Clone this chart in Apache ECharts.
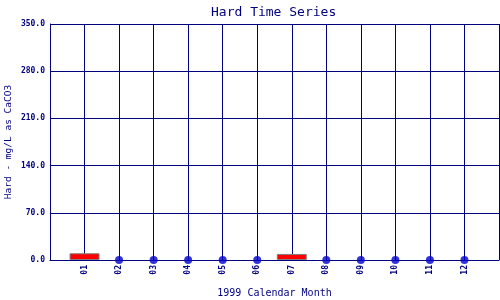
<!DOCTYPE html>
<html>
<head>
<meta charset="utf-8">
<script src="https://cdn.jsdelivr.net/npm/echarts@6/dist/echarts.min.js"></script>
<style>html,body{margin:0;padding:0;background:#fff;}#c{width:500px;height:300px;}</style>
</head>
<body>
<div id="c"></div>
<script>
const titleText = 'Hard Time Series';
const xName = '1999 Calendar Month';
const yName = 'Hard - mg/L as CaCO3';
const months = ['01','02','03','04','05','06','07','08','09','10','11','12'];
const barValues = [10, null, null, null, null, null, 9, null, null, null, null, null];
const dotValues = [null, 0, 0, 0, 0, 0, null, 0, 0, 0, 0, 0];
const yTicks = [0, 70, 140, 210, 280, 350];

const navy = '#000080';
const font = 'DejaVu Sans Mono';
const barData = [], dotData = [];
months.forEach((m, i) => {
  if (barValues[i] !== null) barData.push([i + 1, barValues[i]]);
  if (dotValues[i] !== null) dotData.push([i + 1, dotValues[i]]);
});

const chart = echarts.init(document.getElementById('c'), null, {renderer: 'canvas'});
chart.setOption({
  animation: false,
  title: {
    text: titleText, left: 206, top: 1,
    textStyle: {fontFamily: font, fontSize: 13, fontWeight: 'normal', color: navy}
  },
  grid: {left: 50, right: 1, top: 24, bottom: 40, containLabel: false, outerBoundsMode: 'none'},
  xAxis: {
    type: 'value', min: 0, max: months.length + 1, interval: 1,
    name: xName, nameLocation: 'middle', nameGap: 28, nameMoveOverlap: false,
    nameTextStyle: {fontFamily: font, fontSize: 10, color: navy},
    axisLine: {show: true, lineStyle: {color: navy, width: 1}},
    axisTick: {show: false},
    axisLabel: {
      rotate: 90, margin: 5, fontFamily: font, fontSize: 8, fontWeight: 'bold', color: navy,
      formatter: v => (v >= 1 && v <= months.length) ? months[v - 1] : ''
    },
    splitLine: {show: true, lineStyle: {color: navy, width: 1}}
  },
  yAxis: {
    type: 'value', min: yTicks[0], max: yTicks[yTicks.length - 1], interval: yTicks[1] - yTicks[0],
    name: yName, nameLocation: 'middle', nameGap: 36, nameMoveOverlap: false,
    nameTextStyle: {fontFamily: font, fontSize: 9.5, color: navy},
    axisLine: {show: true, lineStyle: {color: navy, width: 1}},
    axisTick: {show: false},
    axisLabel: {margin: 5, fontFamily: font, fontSize: 8, fontWeight: 'bold', color: navy,
      formatter: v => v.toFixed(1)},
    splitLine: {show: true, lineStyle: {color: navy, width: 1}}
  },
  series: [
    {
      type: 'bar', data: barData, barWidth: 30,
      itemStyle: {color: '#ff0000', borderColor: '#808080', borderWidth: 1}
    },
    {
      type: 'scatter', data: dotData, symbol: 'circle', symbolSize: 8, z: 5,
      itemStyle: {color: '#0000cc'}
    }
  ]
});
</script>
</body>
</html>
